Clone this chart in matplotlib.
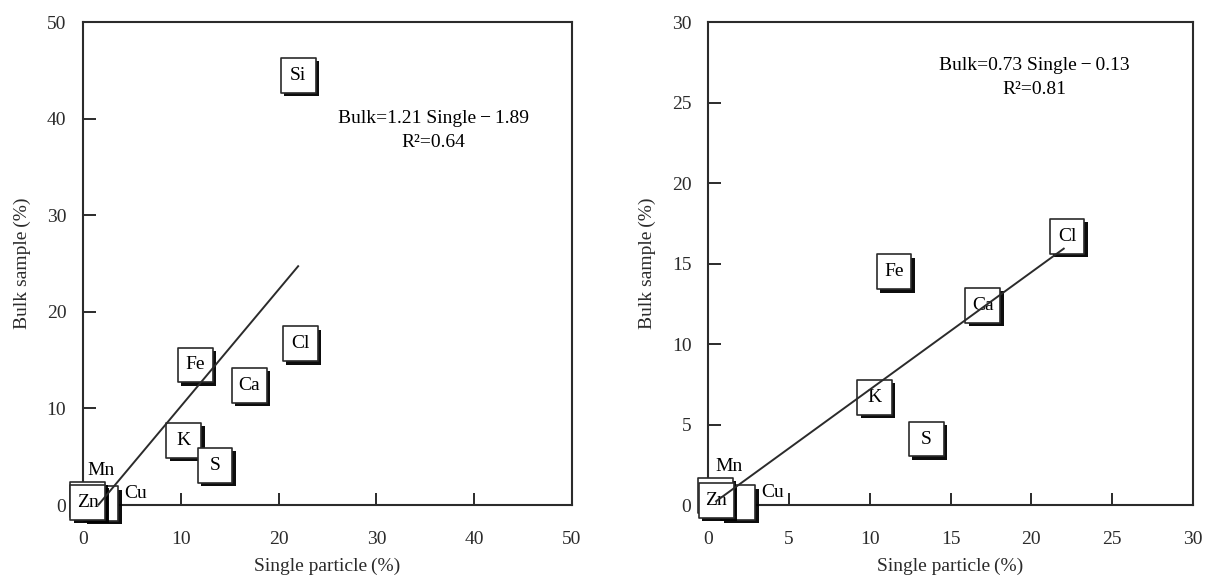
import matplotlib
matplotlib.use('Agg')
import matplotlib.pyplot as plt
import matplotlib.patheffects as pe
import numpy as np

plt.rcParams['font.family'] = ['Liberation Serif', 'DejaVu Serif']
plt.rcParams['font.size'] = 14

# element values (%), same points in both panels
elements = ['Si', 'Cl', 'Fe', 'Ca', 'K', 'S', 'Cu', 'Mn', 'Zn']
single = [22.0, 22.2, 11.5, 17.0, 10.3, 13.5, 1.85, 0.45, 0.5]
bulk = [44.5, 16.7, 14.5, 12.4, 6.7, 4.1, 0.15, 0.6, 0.3]
# labels that sit outside their box (offset in points)
outside = {'Cu': (25, 7), 'Mn': (10, 21)}

# fits: slope, intercept, x start, x end
fit_left = (1.21, -1.89, 1.6, 22.0)
fit_right = (0.73, -0.13, 0.5, 22.0)
eq_left = 'Bulk=1.21 Single\u2009\u2212\u20091.89\nR\u00b2=0.64'
eq_right = 'Bulk=0.73 Single\u2009\u2212\u20090.13\nR\u00b2=0.81'

INK = '#2b2b2b'


def _panel(ax, lim, step, fit, eq, eq_xy):
    ax.set_xlim(0, lim)
    ax.set_ylim(0, lim)
    ticks = np.arange(0, lim + 1, step)
    ax.set_xticks(ticks)
    ax.set_yticks(ticks)
    for s in ax.spines.values():
        s.set_color(INK)
        s.set_linewidth(1.5)
    ax.tick_params(direction='in', length=9, width=1.4, color=INK,
                   labelsize=14, labelcolor=INK)
    ax.tick_params(axis='x', pad=19)
    ax.tick_params(axis='y', pad=12)
    ax.set_xlabel('Single particle\u2009(%)', fontsize=14, labelpad=7, color=INK)
    ax.set_ylabel('Bulk sample\u2009(%)', fontsize=14, labelpad=11, color=INK)

    z = 3
    for name, x, y in zip(elements, single, bulk):
        if x > lim or y > lim:
            continue
        ax.scatter([x], [y], marker='s', s=630, facecolor='white',
                   edgecolor=INK, linewidth=1.2, clip_on=False, zorder=z,
                   path_effects=[pe.SimplePatchShadow(offset=(2.5, -2.5),
                                                      shadow_rgbFace='black',
                                                      alpha=0.95),
                                 pe.Normal()])
        if name in outside:
            ax.annotate(name, (x, y), xytext=outside[name],
                        textcoords='offset points', ha='center', va='center',
                        fontsize=14, color='black', zorder=z + 0.5,
                        annotation_clip=False)
        else:
            ax.text(x, y, name, ha='center', va='center', fontsize=14,
                    color='black', zorder=z + 0.5)
        z += 1

    a, b, x0, x1 = fit
    xs = np.array([x0, x1])
    ax.plot(xs, a * xs + b, color=INK, linewidth=1.4, zorder=z + 1,
            clip_on=False)
    ax.text(eq_xy[0], eq_xy[1], eq, ha='center', va='center',
            multialignment='center', fontsize=14, color='black',
            linespacing=1.5)


fig = plt.figure(figsize=(12.06, 5.81), dpi=100, facecolor='white')
ax1 = fig.add_axes([0.0688, 0.1308, 0.4055, 0.831])
ax2 = fig.add_axes([0.5871, 0.1308, 0.4022, 0.831])

_panel(ax1, 50, 10, fit_left, eq_left, (35.8, 38.8))
_panel(ax2, 30, 5, fit_right, eq_right, (20.2, 26.55))

fig.savefig('out.png', dpi=100, facecolor='white')
